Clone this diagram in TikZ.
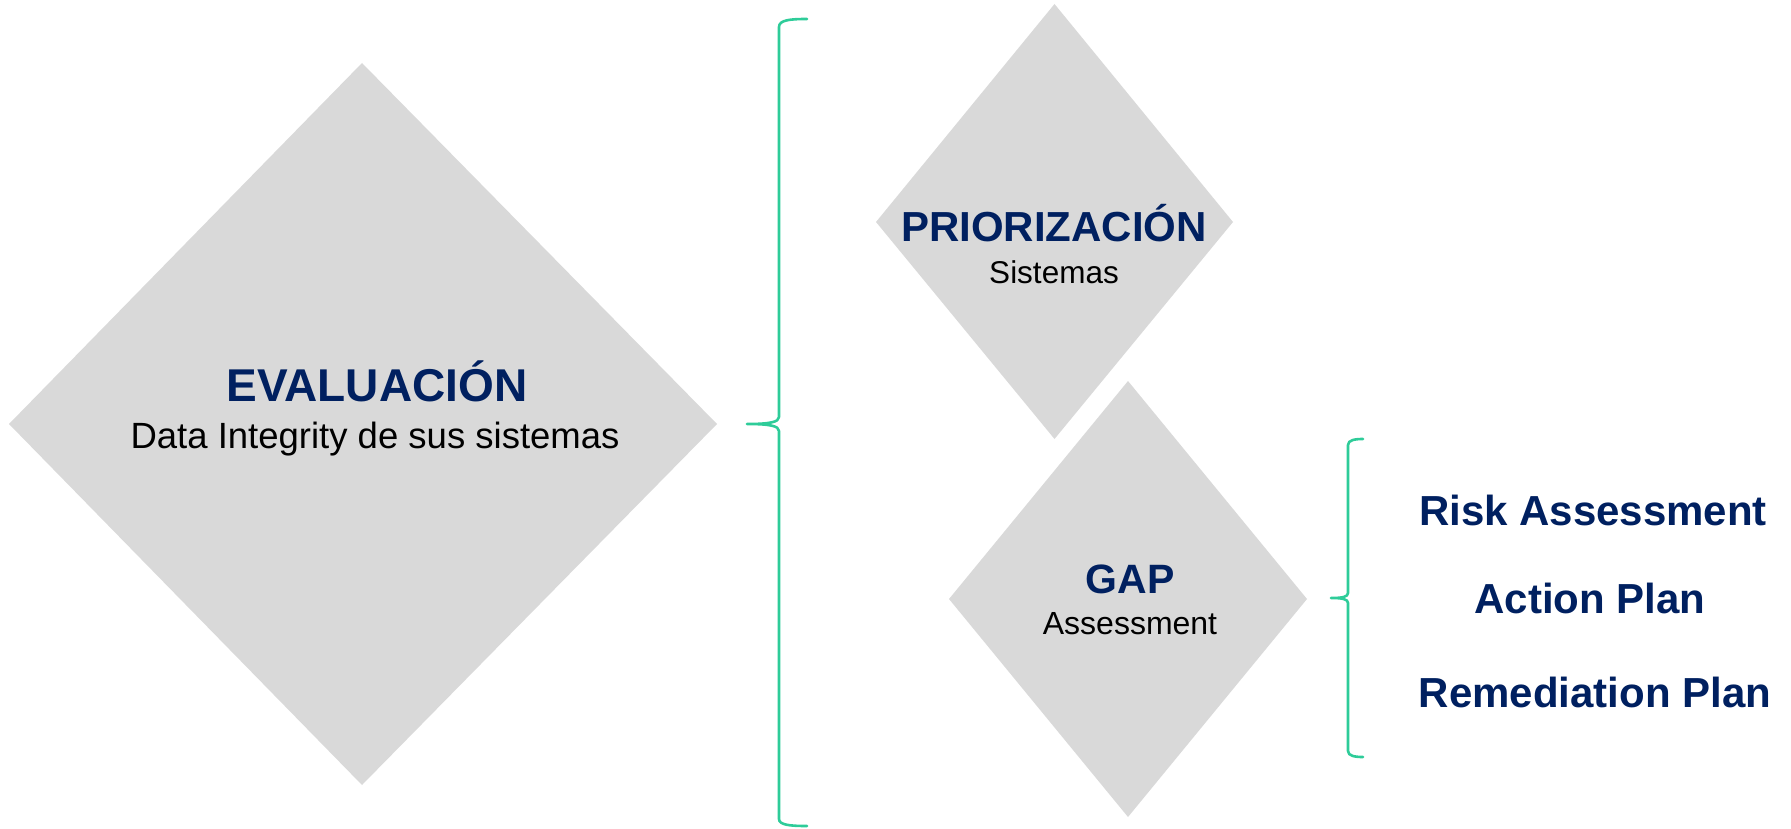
\documentclass[tikz,border=0pt]{standalone}
\usepackage{fontspec}
\setmainfont{Liberation Sans}
\definecolor{navy}{RGB}{0,32,96}
\definecolor{dgray}{RGB}{217,217,217}
\definecolor{bracegreen}{RGB}{46,204,153}
\begin{document}
\begin{tikzpicture}[x=1pt,y=-1pt,
  txt/.style={inner sep=0pt, anchor=base},
  title/.style={txt, text=navy, font=\bfseries},
  sub/.style={txt, text=black},
  bracestyle/.style={draw=bracegreen, line width=2.6pt, line cap=round, line join=round}]
\useasboundingbox (0,0) rectangle (1791,829);
% diamonds
\fill[dgray] (9,424) -- (362,63) -- (717,424) -- (362,785) -- cycle;
\fill[dgray] (876,222) -- (1054.5,4) -- (1233,222) -- (1054.5,439) -- cycle;
\fill[dgray] (949,599) -- (1128,381) -- (1307,599) -- (1128,817) -- cycle;
% texts
\node[title, font=\bfseries\fontsize{46}{50}\selectfont] (eval) at (377,401) {EVALUACIÓN};
\node[sub, font=\fontsize{36.5}{40}\selectfont] (evalsub) at (375,448) {Data Integrity de sus sistemas};
\node[title, font=\bfseries\fontsize{42}{46}\selectfont] (prio) at (1054,241) {PRIORIZACIÓN};
\node[sub, font=\fontsize{31.5}{35}\selectfont] (priosub) at (1054,283) {Sistemas};
\node[title, font=\bfseries\fontsize{41}{45}\selectfont] (gap) at (1130,593) {GAP};
\node[sub, font=\fontsize{32}{35}\selectfont] (gapsub) at (1130,634) {Assessment};
\node[title, font=\bfseries\fontsize{42}{46}\selectfont] (risk) at (1593,525) {Risk Assessment};
\node[title, font=\bfseries\fontsize{42}{46}\selectfont] (action) at (1590,613) {Action Plan};
\node[title, font=\bfseries\fontsize{42}{46}\selectfont] (remed) at (1595,707) {Remediation Plan};
% braces
\draw[bracestyle] (807,19) .. controls (790,19) and (779,20) .. (779,27) -- (779,417)
  .. controls (779,422) and (770,424) .. (747,424)
  .. controls (770,424) and (779,426) .. (779,431) -- (779,819)
  .. controls (779,825) and (790,826) .. (807,826);
\draw[bracestyle] (1363,439) .. controls (1355,439) and (1348,440) .. (1348,445) -- (1348,593)
  .. controls (1348,597) and (1342,598) .. (1331,598)
  .. controls (1342,598) and (1348,599) .. (1348,603) -- (1348,751)
  .. controls (1348,756) and (1355,757) .. (1363,757);
\end{tikzpicture}
\end{document}
